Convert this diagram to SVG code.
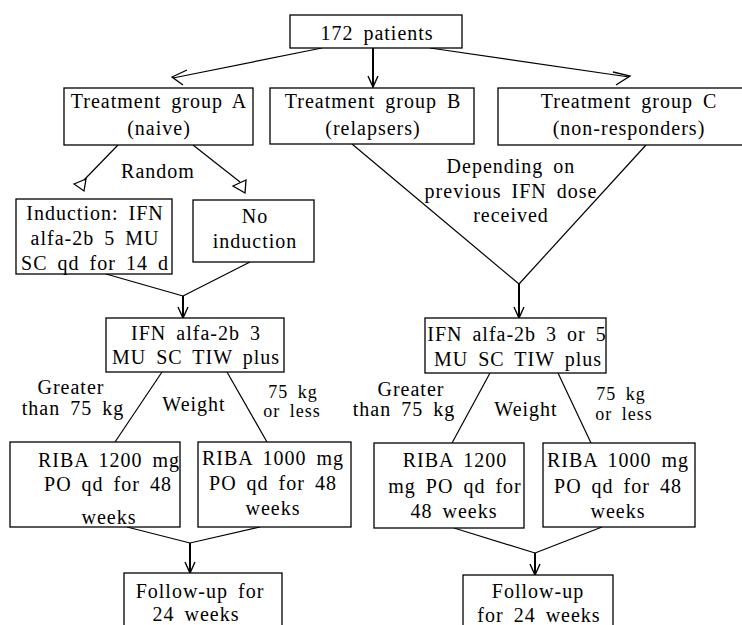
<svg xmlns="http://www.w3.org/2000/svg" width="742" height="625" viewBox="0 0 742 625">
<defs>
<style>
.box{fill:#fff;stroke:#000;stroke-width:1.3}
.t{font-family:"Liberation Serif","Times New Roman",serif;font-size:20px;letter-spacing:1px;word-spacing:4px;fill:#000;text-anchor:middle}
.s{font-size:18px}
.ln{stroke:#000;stroke-width:1.2;fill:none}
.thk{stroke:#000;stroke-width:2;fill:none}
.hd{stroke:#000;stroke-width:1.3;fill:none}
</style>
<marker id="v" markerUnits="userSpaceOnUse" markerWidth="14" markerHeight="14" viewBox="-12 -7 14 14" refX="0" refY="0" orient="auto">
<path d="M-11,-5 L0,0 L-11,5" fill="none" stroke="#000" stroke-width="1.4"/>
</marker>
</defs>
<rect width="742" height="625" fill="#fff"/>
<g id="connectors">
<line class="ln" x1="322" y1="48" x2="173" y2="78"/>
<path class="hd" d="M187,70 L172,77 L183,85"/>
<line class="thk" x1="373" y1="48" x2="373" y2="87" marker-end="url(#v)"/>
<line class="ln" x1="430" y1="48" x2="629" y2="77"/>
<path class="hd" d="M613,72 L630,76 L616,85"/>
<line class="ln" x1="118" y1="145" x2="84" y2="180"/>
<path class="hd" d="M74,184 L86,179 L84,191 Z"/>
<line class="ln" x1="193" y1="145" x2="240" y2="182"/>
<path class="hd" d="M233,186 L246,180 L245,193 Z"/>
<line class="ln" x1="352" y1="144" x2="519" y2="284"/>
<line class="ln" x1="646" y1="145" x2="519" y2="284"/>
<line class="thk" x1="519" y1="284" x2="519" y2="318" marker-end="url(#v)"/>
<line class="ln" x1="106" y1="274" x2="183" y2="296"/>
<line class="ln" x1="250" y1="262" x2="183" y2="296"/>
<line class="thk" x1="183" y1="296" x2="183" y2="318" marker-end="url(#v)"/>
<line class="ln" x1="162" y1="372" x2="115" y2="442"/>
<line class="ln" x1="227" y1="372" x2="267" y2="442"/>
<line class="ln" x1="490" y1="373" x2="452" y2="443"/>
<line class="ln" x1="558" y1="373" x2="591" y2="443"/>
<line class="ln" x1="127" y1="527" x2="190" y2="543"/>
<line class="ln" x1="260" y1="527" x2="190" y2="543"/>
<line class="thk" x1="190" y1="543" x2="190" y2="573" marker-end="url(#v)"/>
<line class="ln" x1="454" y1="528" x2="535" y2="553"/>
<line class="ln" x1="602" y1="527" x2="535" y2="553"/>
<line class="thk" x1="535" y1="553" x2="535" y2="575" marker-end="url(#v)"/>
</g>
<g id="n172"><rect class="box" x="290" y="15" width="172" height="33"/><text class="t" x="377" y="40">172 patients</text></g>
<g id="groupA"><rect class="box" x="64" y="88" width="189" height="57"/><text class="t" x="159" y="108">Treatment group A</text><text class="t" x="159" y="135">(naive)</text></g>
<g id="groupB"><rect class="box" x="270" y="88" width="204" height="56"/><text class="t" x="373" y="108">Treatment group B</text><text class="t" x="373" y="135">(relapsers)</text></g>
<g id="groupC"><rect class="box" x="498" y="88" width="262" height="57"/><text class="t" x="629" y="108">Treatment group C</text><text class="t" x="629" y="135">(non-responders)</text></g>
<g id="induction"><rect class="box" x="16" y="199" width="156" height="75"/><text class="t" x="95" y="220">Induction: IFN</text><text class="t" x="95" y="245">alfa-2b 5 MU</text><text class="t" x="95" y="270">SC qd for 14 d</text></g>
<g id="noInduction"><rect class="box" x="193" y="200" width="121" height="62"/><text class="t" x="255" y="223">No</text><text class="t" x="255" y="248">induction</text></g>
<g id="ifnA"><rect class="box" x="106" y="318" width="178" height="54"/><text class="t" x="196" y="340">IFN alfa-2b 3</text><text class="t" x="196" y="364">MU SC TIW plus</text></g>
<g id="ifnBC"><rect class="box" x="425" y="318" width="181" height="55"/><text class="t" x="517" y="341">IFN alfa-2b 3 or 5</text><text class="t" x="518" y="366">MU SC TIW plus</text></g>
<g id="ribaA1"><rect class="box" x="10" y="442" width="170" height="85"/><text class="t" x="109" y="467">RIBA 1200 mg</text><text class="t" x="108" y="491">PO qd for 48</text><text class="t" x="109" y="524">weeks</text></g>
<g id="ribaA2"><rect class="box" x="198" y="442" width="153" height="85"/><text class="t" x="273" y="465">RIBA 1000 mg</text><text class="t" x="273" y="490">PO qd for 48</text><text class="t" x="273" y="515">weeks</text></g>
<g id="ribaB1"><rect class="box" x="374" y="443" width="150" height="85"/><text class="t" x="455" y="467">RIBA 1200</text><text class="t" x="455" y="493">mg PO qd for</text><text class="t" x="454" y="518">48 weeks</text></g>
<g id="ribaB2"><rect class="box" x="543" y="443" width="152" height="84"/><text class="t" x="618" y="467">RIBA 1000 mg</text><text class="t" x="618" y="493">PO qd for 48</text><text class="t" x="618" y="518">weeks</text></g>
<g id="followA"><rect class="box" x="124" y="573" width="158" height="60"/><text class="t" x="200" y="598">Follow-up for</text><text class="t" x="196" y="621">24 weeks</text></g>
<g id="followB"><rect class="box" x="463" y="575" width="150" height="60"/><text class="t" x="538" y="598">Follow-up</text><text class="t" x="539" y="622">for 24 weeks</text></g>
<g id="labels">
<text class="t" x="158" y="178">Random</text>
<text class="t" x="511" y="173">Depending on</text>
<text class="t" x="511" y="198">previous IFN dose</text>
<text class="t" x="511" y="222">received</text>
<text class="t" x="71" y="394">Greater</text>
<text class="t" x="73" y="415">than 75 kg</text>
<text class="t" x="194" y="411">Weight</text>
<text class="t s" x="293" y="398">75 kg</text>
<text class="t s" x="292" y="417">or less</text>
<text class="t" x="411" y="396">Greater</text>
<text class="t" x="404" y="416">than 75 kg</text>
<text class="t" x="526" y="416">Weight</text>
<text class="t s" x="621" y="400">75 kg</text>
<text class="t s" x="624" y="420">or less</text>
</g>
</svg>
